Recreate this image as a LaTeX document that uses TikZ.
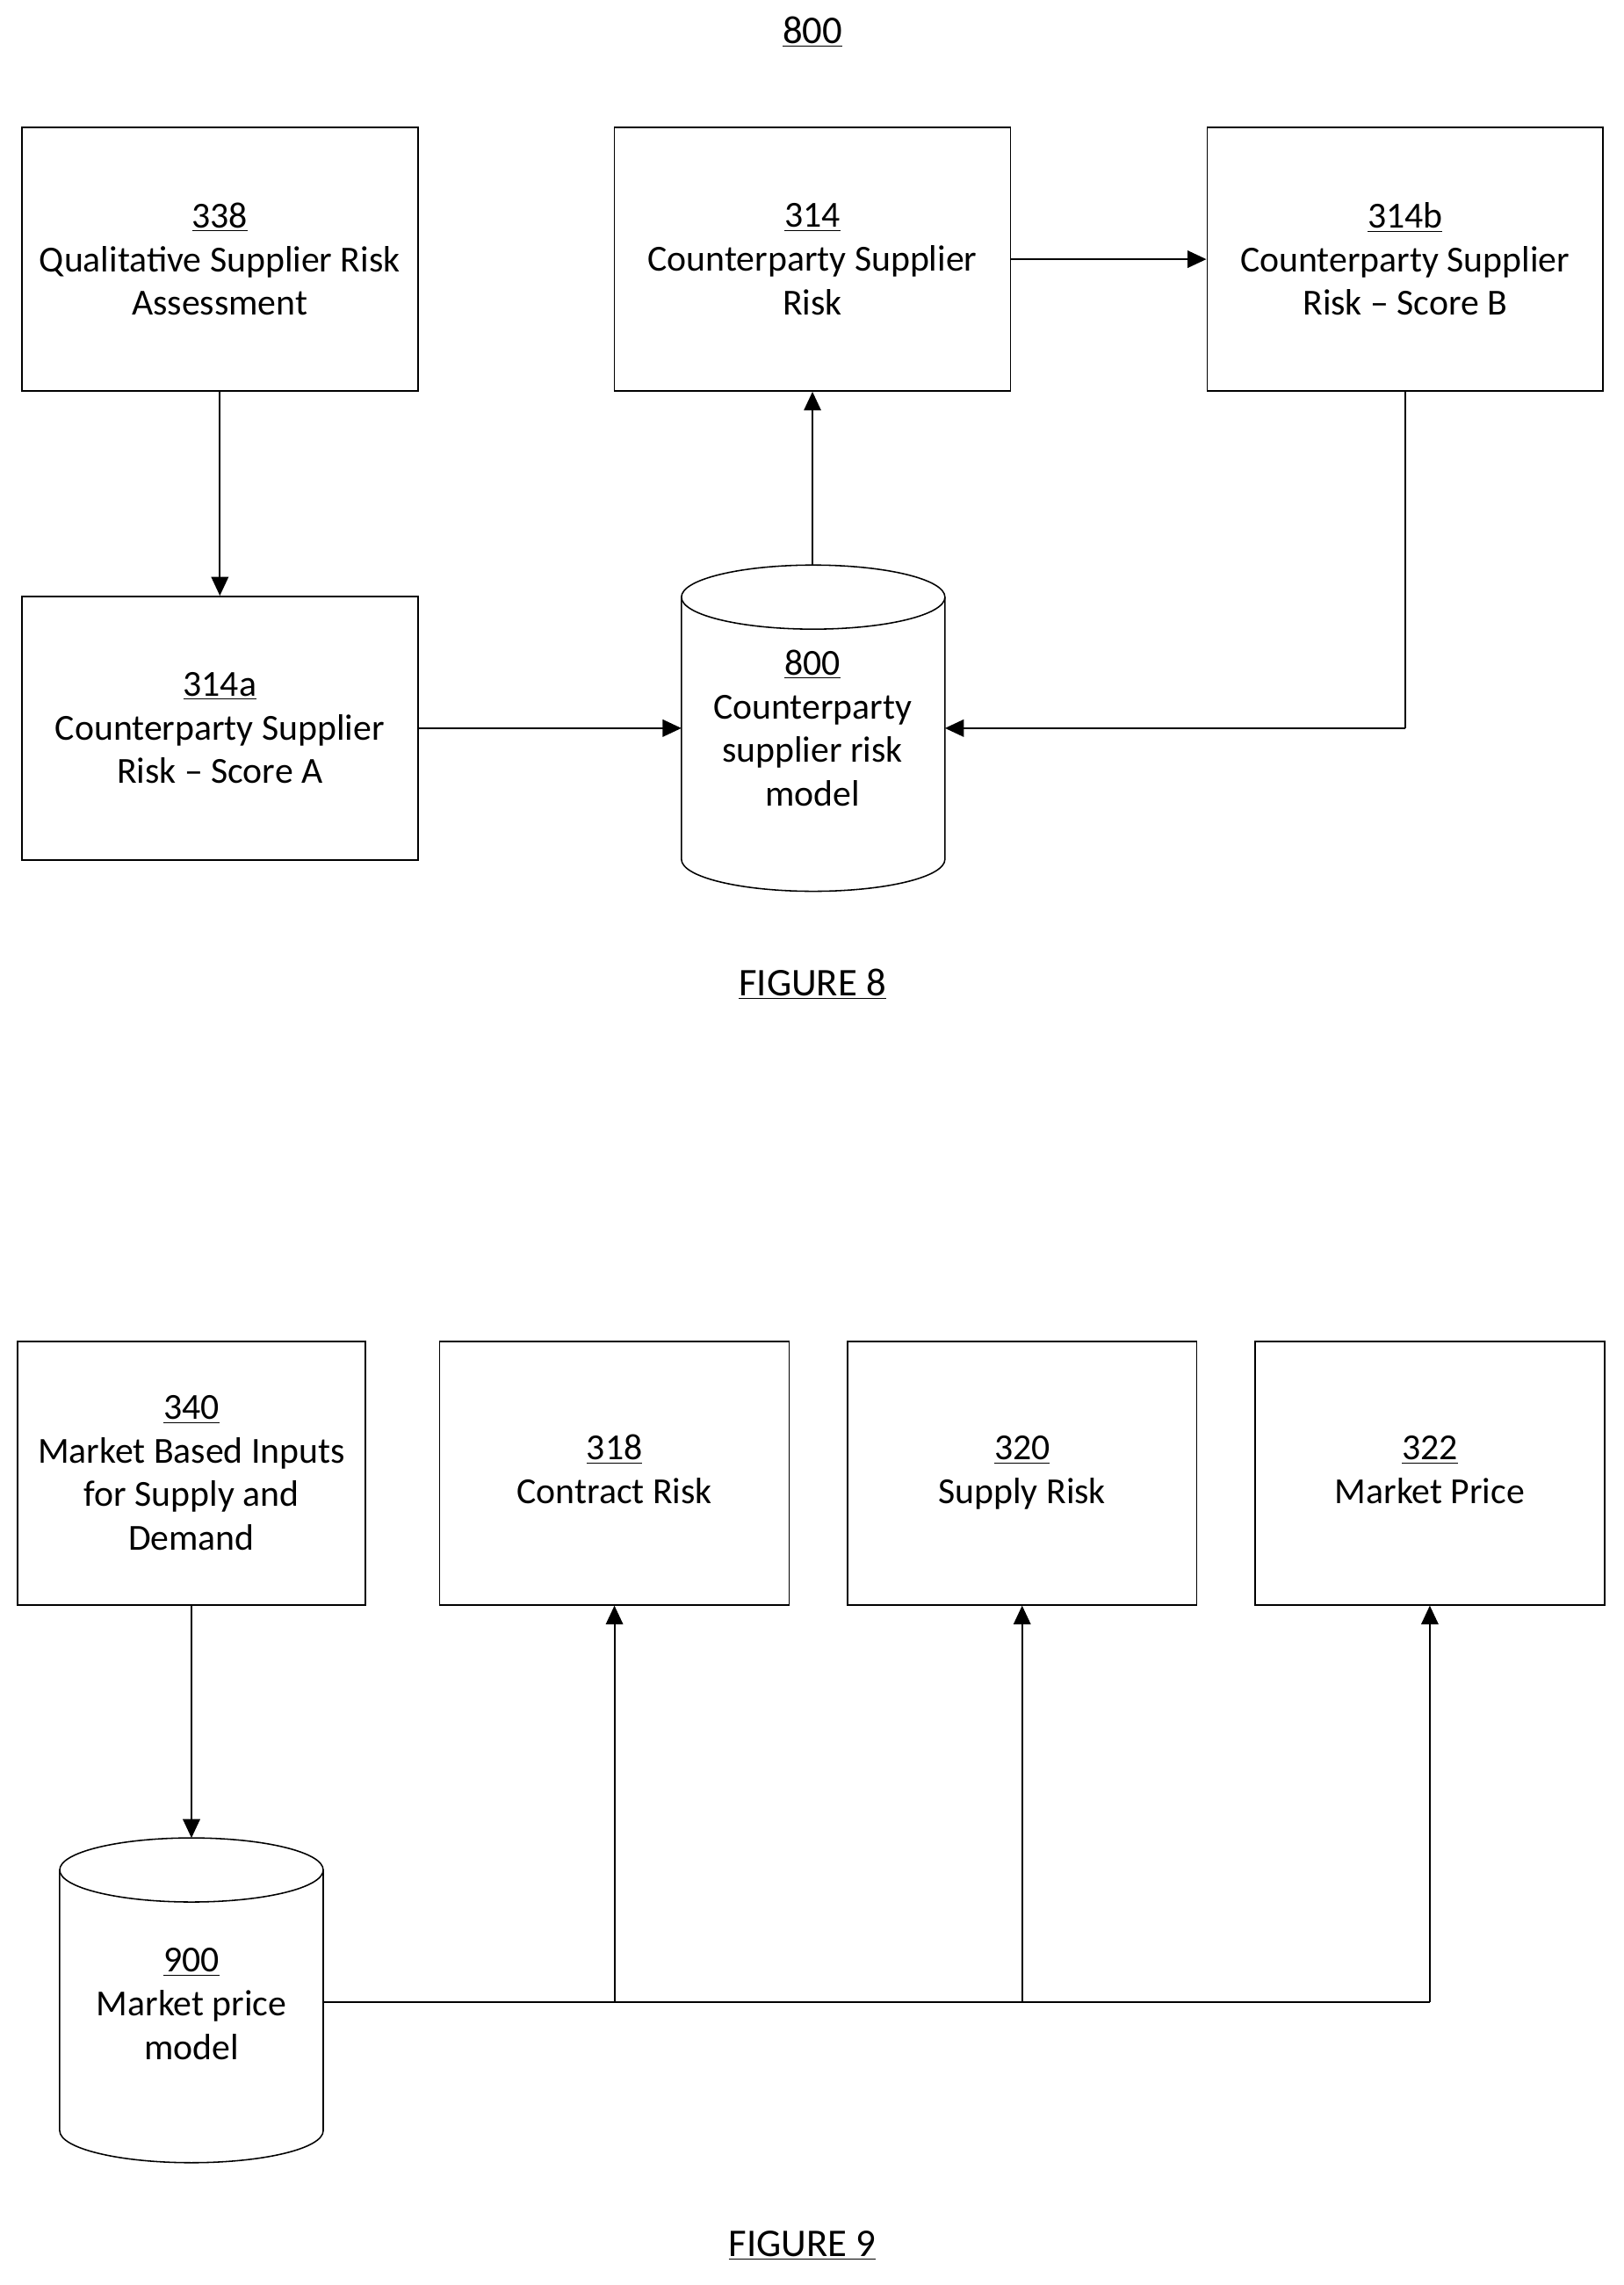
\documentclass[tikz,border=0pt]{standalone}
\usepackage{fontspec}
\setmainfont{Carlito}
\usetikzlibrary{shapes.geometric,arrows.meta}
\begin{document}
\begin{tikzpicture}[x=0.03cm,y=-0.03cm,
  box/.style={draw,line width=0.8pt,inner sep=0pt,align=center,font=\fontsize{21.5}{25.5}\selectfont},
  ctxt/.style={align=center,font=\fontsize{21.5}{25.5}\selectfont,inner sep=0pt},
  lbl/.style={font=\fontsize{23}{27}\selectfont},
  arr/.style={line width=1.1pt,-{Triangle[length=11pt,width=10pt]}}]
\useasboundingbox (0,0) rectangle (1115,1569);
\node[lbl] (t) at (558,22) {\underline{800}};
\node[box,minimum width=272*0.03cm,minimum height=181*0.03cm] (b338) at (151,178) {\underline{338}\\Qualitative Supplier Risk\\Assessment};
\node[box,minimum width=272*0.03cm,minimum height=181*0.03cm] (b314) at (558,178) {\underline{314}\\Counterparty Supplier\\Risk};
\node[box,minimum width=272*0.03cm,minimum height=181*0.03cm] (b314b) at (965,178) {\underline{314b}\\Counterparty Supplier\\Risk -- Score B};
\node[box,minimum width=272*0.03cm,minimum height=181*0.03cm] (b314a) at (151,500) {\underline{314a}\\Counterparty Supplier\\Risk -- Score A};
% cylinder 800
\draw[line width=0.8pt] (468,410) -- (468,590) arc[start angle=180,end angle=0,x radius=90.5,y radius=22] -- (649,410);
\draw[line width=0.8pt] (558.5,410) ellipse[x radius=90.5,y radius=22];
\node[ctxt] (c800) at (558,500) {\underline{800}\\Counterparty\\supplier risk\\model};
\coordinate (c800n) at (558,388);
\coordinate (c800w) at (468,500);
\coordinate (c800e) at (649,500);
\coordinate (k1) at (965,500);
\draw[arr] (b338) -- (b314a);
\draw[arr] (b314a) -- (c800w);
\draw[arr] (c800n) -- (b314);
\draw[arr] (b314) -- (b314b);
\draw[line width=1.1pt] (b314b.south) -- (k1);
\draw[arr] (k1) -- (c800e);
\node[lbl] (f8) at (558,676) {\underline{FIGURE 8}};

\node[box,minimum width=239*0.03cm,minimum height=181*0.03cm] (b340) at (131.5,1011.5) {\underline{340}\\Market Based Inputs\\for Supply and\\Demand};
\node[box,minimum width=240*0.03cm,minimum height=181*0.03cm] (b318) at (422,1011.5) {\underline{318}\strut\\Contract Risk\strut};
\node[box,minimum width=240*0.03cm,minimum height=181*0.03cm] (b320) at (702,1011.5) {\underline{320}\strut\\Supply Risk\strut};
\node[box,minimum width=240*0.03cm,minimum height=181*0.03cm] (b322) at (982,1011.5) {\underline{322}\strut\\Market Price\strut};
% cylinder 900
\draw[line width=0.8pt] (41,1284) -- (41,1463) arc[start angle=180,end angle=0,x radius=90.5,y radius=22] -- (222,1284);
\draw[line width=0.8pt] (131.5,1284) ellipse[x radius=90.5,y radius=22];
\node[ctxt] (c900) at (131.5,1376) {\underline{900}\\Market price\\model};
\coordinate (c900n) at (131.5,1262);
\coordinate (c900e) at (222,1375);
\coordinate (j1) at (422,1375);
\coordinate (j2) at (702,1375);
\coordinate (j3) at (982,1375);
\draw[arr] (b340) -- (c900n);
\draw[line width=1.1pt] (c900e) -- (j3);
\draw[arr] (j1) -- (b318);
\draw[arr] (j2) -- (b320);
\draw[arr] (j3) -- (b322);
\node[lbl] (f9) at (551,1542) {\underline{FIGURE 9}};
\end{tikzpicture}
\end{document}
